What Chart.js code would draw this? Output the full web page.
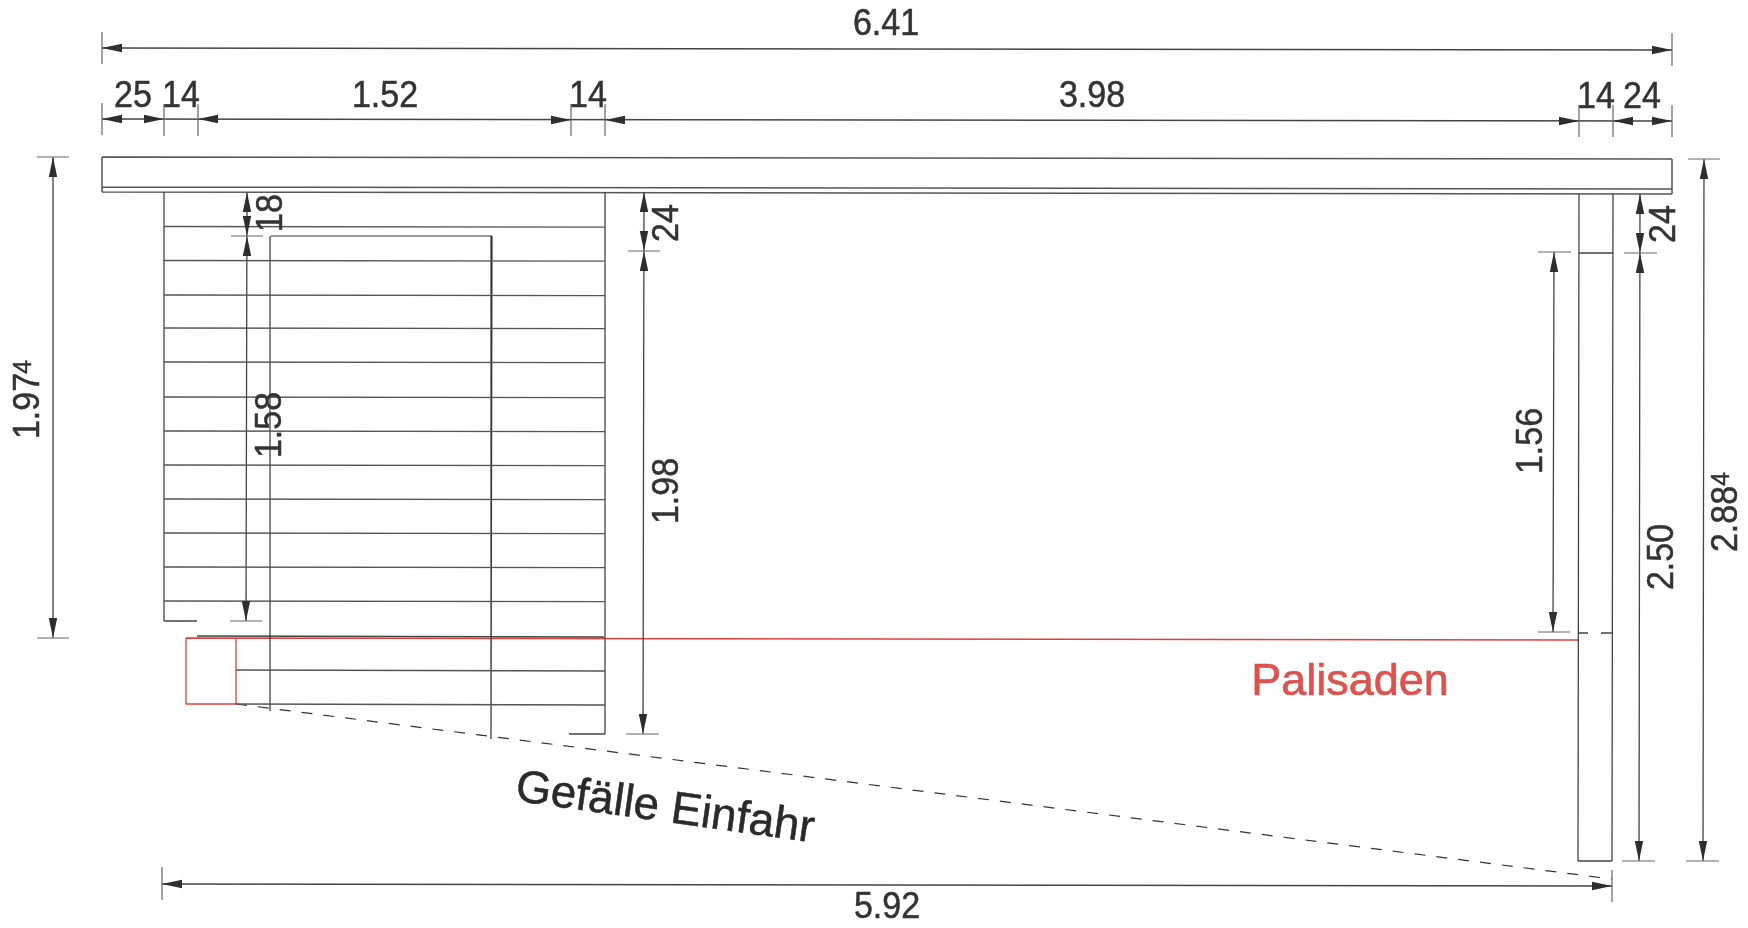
<!DOCTYPE html>
<html><head><meta charset="utf-8">
<style>html,body{margin:0;padding:0;background:#fff;overflow:hidden}canvas{display:block}</style>
<script src="https://cdn.jsdelivr.net/npm/chart.js@4"></script></head>
<body><canvas id="c" width="1748" height="928"></canvas>
<script>
// Each segment: x1, y1, x2, y2 in drawing units
const beamLines = [[102,157,1672,159],[102,187,1672,189],[102,192,1672,194],[102,157,102,192],[1672,159,1672,194]];
const wallLines = [[164,192,164,621],[164,621,197,621],[605,192,605,734],[569,734,605,734],[197,636,604,637]];
const boardY = [226.5,260.5,295,328,362,397,431,465,499,533,567,601];
const lowerBoards = [[236,670,605,671],[236,704,605,705]];
const doorLines = [[271,236,492,236],[270,236,270,711],[492,236,491,739]];
const postLines = [[1579,194,1578,861],[1613,194,1612,861],[1578,861,1612,861],[1579,253,1613,253],[1578,633,1588,633],[1601,633,1612,633]];
const extensionLines = [
 [102,32,102,64],[1672,33,1672,66],
 [102,103,102,135],[164,104,164,136],[198,104,198,136],[571,104,571,136],[605,104,605,136],
 [1579,105,1579,137],[1613,105,1613,137],[1672,105,1672,137],
 [37,157,69,157],[37,638,69,638],[231,236,263,236],[230,621,262,621],
 [628,251,660,251],[626,734,659,734],[1538,252,1571,252],[1538,632,1570,632],
 [1624,253,1657,253],[1622,861,1655,861],[1688,159,1720,159],[1686,861,1719,861],
 [162,867,162,900],[1612,870,1612,902]];
const dimensionLines = [
 [102,48,1672,50],[102,119,1672,121],[162,884,1612,886],
 [53,157,53,638],[247,192,246,621],[644,192,643,734],[1554,252,1553,632],[1640,194,1639,861],[1704,159,1703,861]];
const redLines = [[186,638,1578,640],[186,638,186,704],[186,704,236,704],[236,638,236,704]];
const slopeLine = [[236,704,1612,879]];
// Arrowheads: tip x, tip y, pointing direction (L, R, U, D)
const arrowHeads = [
 [102,48,'L'],[1672,50,'R'],
 [102,119,'L'],[164,119,'R'],[198,119,'L'],[571,120,'R'],[605,120,'L'],[1579,121,'R'],[1613,121,'L'],[1672,121,'R'],
 [162,884,'L'],[1612,886,'R'],
 [53,157,'U'],[53,638,'D'],
 [247,192,'U'],[247,236,'D'],[247,236,'U'],[246,621,'D'],
 [644,192,'U'],[644,251,'D'],[644,251,'U'],[643,734,'D'],
 [1554,252,'U'],[1553,632,'D'],
 [1640,194,'U'],[1640,253,'D'],[1640,253,'U'],[1639,861,'D'],
 [1704,159,'U'],[1703,861,'D']];
// Labels: text, centre x, centre y, rotation in degrees
const dimensionLabels = [
 ['6.41',886,25,0],['25',133,97,0],['14',181,97,0],['1.52',385,97,0],['14',588,97,0],['3.98',1092,97,0],['14',1596,98,0],['24',1642,98,0],
 ['1.97',29,406,-90],['18',272,213,-90],['1.58',271,425,-90],['24',668,223,-90],['1.98',668,491,-90],['1.56',1532,441,-90],['24',1665,224,-90],['2.50',1663,557,-90],['2.88',1727,519,-90],
 ['5.92',887,908,0]];
const superscripts = [['4',24,367,-90],['4',1722,479,-90]];
const redLabel = ['Palisaden',1350,683,0];
const slopeLabel = ['Gefälle Einfahr',665,809,8.0];

const toPoints = segs => segs.flatMap(s => [{x:s[0],y:s[1]},{x:s[2],y:s[3]},{x:null,y:null}]);
const boardLines = boardY.map(y => [164,y,605,y+0.7]);
const lineSet = (label,segs,color,width,dash) => ({label,data:toPoints(segs),showLine:true,spanGaps:false,borderColor:color,borderWidth:width,borderDash:dash||[],pointRadius:0,fill:false,tension:0});

const annotate = {
 id:'annotate',
 afterDatasetsDraw(chart){
  const {ctx,scales:{x,y}} = chart;
  ctx.save();
  ctx.fillStyle = '#2e2e2e';
  const L = 20, H = 4.2;
  arrowHeads.forEach(([ax,ay,d]) => {
   const px = x.getPixelForValue(ax), py = y.getPixelForValue(ay);
   const dx = d==='L'?1:d==='R'?-1:0, dy = d==='U'?1:d==='D'?-1:0;
   ctx.beginPath();
   ctx.moveTo(px,py);
   ctx.lineTo(px+dx*L-dy*H,py+dy*L+dx*H);
   ctx.lineTo(px+dx*L+dy*H,py+dy*L-dx*H);
   ctx.closePath(); ctx.fill();
  });
  const put = (t,size,color,sx,weight) => {
   ctx.save();
   ctx.translate(x.getPixelForValue(t[1]),y.getPixelForValue(t[2]));
   ctx.rotate(t[3]*Math.PI/180);
   ctx.scale(sx,1);
   ctx.font = size+'px "Liberation Sans"';
   ctx.fillStyle = color; ctx.strokeStyle = color; ctx.lineWidth = weight;
   ctx.textAlign='center'; ctx.textBaseline='middle';
   ctx.fillText(t[0],0,0);
   ctx.strokeText(t[0],0,0);
   ctx.restore();
  };
  dimensionLabels.forEach(t => put(t,36,'#333',0.945,0.5));
  superscripts.forEach(t => put(t,26,'#333',0.945,0.4));
  put(redLabel,45,'#d9534f',1,0.7);
  put(slopeLabel,45.5,'#2a2a2a',1,0.5);
  ctx.restore();
 }
};

new Chart(document.getElementById('c'),{
 type:'scatter',
 data:{datasets:[
  lineSet('Boards',boardLines.concat(lowerBoards),'#555',1.3),
  lineSet('Wall',wallLines,'#444',1.3),
  lineSet('Door',doorLines,'#333',1.2),
  lineSet('Beam',beamLines,'#555',1.5),
  lineSet('Post',postLines,'#444',1.3),
  lineSet('Extensions',extensionLines,'#666',1.2),
  lineSet('Dimensions',dimensionLines,'#444',1.3),
  lineSet('Slope',slopeLine,'#333',1.2,[11,11]),
  lineSet('Palisaden',redLines,'#e0403c',1.3)
 ]},
 options:{
  responsive:false,animation:false,
  layout:{padding:0},
  plugins:{legend:{display:false},tooltip:{enabled:false}},
  scales:{
   x:{type:'linear',min:0,max:1748,display:false},
   y:{type:'linear',min:0,max:928,reverse:true,display:false}
  }
 },
 plugins:[annotate]
});
</script></body></html>
